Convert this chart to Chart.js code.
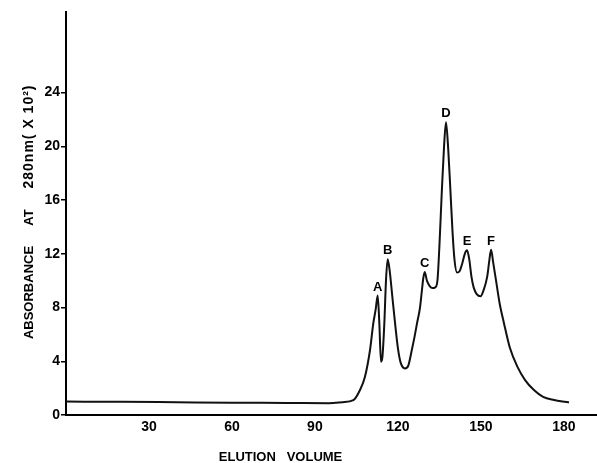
<!DOCTYPE html>
<html>
<head>
<meta charset="utf-8">
<script src="https://cdn.jsdelivr.net/npm/chart.js@4"></script>
<style>
  body { margin: 0; background: #fff; }
  #wrap { width: 597px; height: 463px; }
</style>
</head>
<body>
<div id="wrap"><canvas id="elutionChart"></canvas></div>
<script>
// elution profile
const volumes = [0, 20, 40, 60, 80, 95, 100, 103.9, 106.3, 108.1, 109.9, 111.1, 112.0, 112.7, 113.3, 113.9,
  114.4, 115.1, 115.7, 116.3, 117.0, 118.0, 119.0, 120.0, 121.0, 122.6, 123.8, 125.0, 126.0, 126.9,
  128.0, 128.7, 129.2, 129.7, 130.5, 131.5, 132.5, 133.5, 134.3, 135.0, 135.9, 136.7, 137.4, 138.2,
  139.0, 139.8, 140.5, 141.4, 142.3, 143.3, 144.2, 145.0, 145.8, 146.6, 147.4, 148.5, 149.9, 151.0,
  152.3, 153.0, 153.7, 154.5, 155.5, 156.8, 158.4, 160.5, 163.2, 166.0, 169.2, 172.5, 176.5, 179.5, 181.9];
const absorbance = [1.0, 0.98, 0.95, 0.92, 0.9, 0.88, 0.95, 1.1, 1.86, 2.85, 4.8, 6.8, 7.9, 8.9, 6.8, 3.96,
  4.3, 6.8, 10.0, 11.6, 10.8, 8.8, 6.8, 5.0, 3.9, 3.47, 3.7, 4.8, 5.8, 6.8,
  8.0, 9.3, 10.2, 10.65, 10.0, 9.6, 9.45, 9.5, 10.0, 12.5, 16.7, 20.0, 21.8, 19.8,
  16.7, 13.5, 11.5, 10.6, 10.7, 11.3, 12.0, 12.26, 11.6, 10.3, 9.5, 9.0, 8.84, 9.3,
  10.3, 11.4, 12.3, 11.3, 10.0, 8.3, 6.8, 5.0, 3.6, 2.6, 1.86, 1.35, 1.11, 1.0, 0.94];

const peakNames = ["A", "B", "C", "D", "E", "F"];
const peakVolumes = [112.7, 116.3, 129.7, 137.4, 145.0, 153.7];
const peakValues = [8.9, 11.6, 10.65, 21.8, 12.26, 12.3];

const xTicks = [30, 60, 90, 120, 150, 180];
const yTicks = [0, 4, 8, 12, 16, 20, 24];

// y title is set in three spaced pieces like the original
const yTitleParts = ["ABSORBANCE", "AT", "280nm( X 10\u00B2)"];
const xTitle = "ELUTION   VOLUME";

const FONT = "'Liberation Sans', Arial, sans-serif";

const annotate = {
  id: "annotate",
  afterDraw(chart) {
    const ctx = chart.ctx;
    const xs = chart.scales.x, ys = chart.scales.y;
    const area = chart.chartArea;
    const midY = (area.top + area.bottom) / 2;
    ctx.save();
    ctx.fillStyle = "#000";
    ctx.font = "bold 13px " + FONT;
    ctx.textAlign = "center";
    ctx.textBaseline = "bottom";
    peakNames.forEach((n, i) => {
      ctx.fillText(n, xs.getPixelForValue(peakVolumes[i]), ys.getPixelForValue(peakValues[i]) - 2);
    });
    // axis titles
    ctx.textBaseline = "middle";
    ctx.fillText(xTitle, area.left + (area.right - area.left) * 0.404, area.bottom + 42);
    ctx.translate(area.left - 37, midY);
    ctx.rotate(-Math.PI / 2);
    ctx.fillText(yTitleParts[0], -79, 0);
    ctx.fillText(yTitleParts[1], -4, 0);
    ctx.font = "bold 14px " + FONT;
    ctx.letterSpacing = "1px";
    ctx.fillText(yTitleParts[2], 77, 0);
    ctx.restore();
  }
};

new Chart(document.getElementById("elutionChart").getContext("2d"), {
  type: "line",
  data: {
    datasets: [{
      data: volumes.map((v, i) => ({ x: v, y: absorbance[i] })),
      borderColor: "#111",
      borderWidth: 2,
      pointRadius: 0,
      fill: false,
      cubicInterpolationMode: "monotone"
    }]
  },
  options: {
    responsive: true,
    maintainAspectRatio: false,
    animation: false,
    layout: { padding: { top: 12, right: 0, left: 0, bottom: 0 } },
    plugins: { legend: { display: false }, tooltip: { enabled: false } },
    scales: {
      x: {
        type: "linear",
        min: 0,
        max: 192,
        afterFit: (s) => { s.height = 48; },
        afterBuildTicks: (s) => { s.ticks = xTicks.map(v => ({ value: v })); },
        border: { color: "#000", width: 2 },
        grid: { drawOnChartArea: false, drawTicks: false },
        ticks: { color: "#000", padding: 4, font: { family: FONT, size: 14, weight: "bold" } }
      },
      y: {
        min: 0,
        max: 30,
        afterFit: (s) => { s.width = 66; },
        afterBuildTicks: (s) => { s.ticks = yTicks.map(v => ({ value: v })); },
        border: { color: "#000", width: 2 },
        grid: { drawOnChartArea: false, tickLength: 5, color: "#000", lineWidth: 1.5 },
        ticks: { color: "#000", padding: 1, font: { family: FONT, size: 14, weight: "bold" } }
      }
    }
  },
  plugins: [annotate]
});
</script>
</body>
</html>
